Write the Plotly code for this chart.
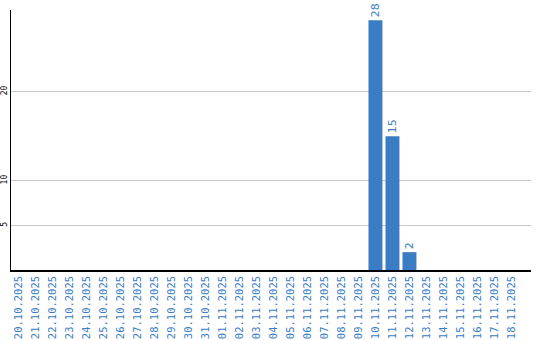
import plotly.graph_objects as go

dates = ["20.10.2025", "21.10.2025", "22.10.2025", "23.10.2025", "24.10.2025",
         "25.10.2025", "26.10.2025", "27.10.2025", "28.10.2025", "29.10.2025",
         "30.10.2025", "31.10.2025", "01.11.2025", "02.11.2025", "03.11.2025",
         "04.11.2025", "05.11.2025", "06.11.2025", "07.11.2025", "08.11.2025",
         "09.11.2025", "10.11.2025", "11.11.2025", "12.11.2025", "13.11.2025",
         "14.11.2025", "15.11.2025", "16.11.2025", "17.11.2025", "18.11.2025"]
counts = [0, 0, 0, 0, 0, 0, 0, 0, 0, 0,
          0, 0, 0, 0, 0, 0, 0, 0, 0, 0,
          0, 28, 15, 2, 0, 0, 0, 0, 0, 0]
y_ticks = [5, 10, 20]

blue = "#3b7dc4"
labels = [str(v) if v else "" for v in counts]

fig = go.Figure(go.Bar(
    x=list(range(len(dates))), y=counts, text=labels,
    textposition="outside", textangle=-90, cliponaxis=False,
    textfont=dict(family="DejaVu Sans", size=11, color=blue),
    marker=dict(color=blue, line=dict(width=0)),
))
fig.update_layout(
    width=540, height=340,
    margin=dict(l=11, r=9, t=10, b=70, autoexpand=False),
    paper_bgcolor="white", plot_bgcolor="white",
    bargap=0.18, showlegend=False,
    xaxis=dict(
        tickmode="array", tickvals=list(range(len(dates))), ticktext=dates,
        range=[-0.44, 30.15], tickangle=-90, automargin=False,
        tickfont=dict(family="DejaVu Sans Mono", size=10.5, color=blue),
        showline=True, linecolor="black", linewidth=1.5,
        showgrid=False, ticks="", zeroline=False, fixedrange=True,
    ),
    yaxis=dict(
        range=[0, 29.15], tickvals=y_ticks, tickangle=-90, automargin=False,
        tickfont=dict(family="DejaVu Sans Mono", size=8, color="black"),
        showline=True, linecolor="black", linewidth=1,
        showgrid=True, gridcolor="#c8c8c8", gridwidth=1,
        ticks="", zeroline=False, ticklabelstandoff=0,
    ),
)
fig.write_html("out.html")
